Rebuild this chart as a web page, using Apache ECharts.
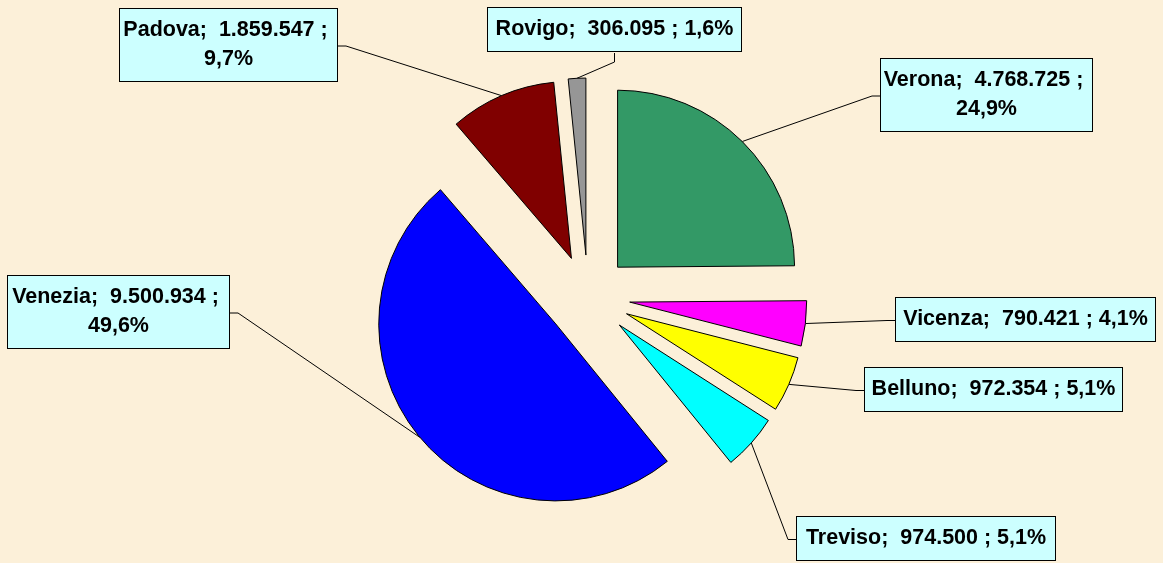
<!DOCTYPE html>
<html>
<head>
<meta charset="utf-8">
<title>Veneto</title>
<script src="https://cdn.jsdelivr.net/npm/echarts@6/dist/echarts.min.js"></script>
<style>
    html, body { margin: 0; padding: 0; background: #fcf0d9; }
    #main { width: 1163px; height: 563px; }
</style>
</head>
<body>
<div id="main"></div>
<script>
// data
var names = ['Verona', 'Vicenza', 'Belluno', 'Treviso', 'Venezia', 'Padova', 'Rovigo'];
var values = [4768725, 790421, 972354, 974500, 9500934, 1859547, 306095];
var colors = ['#339966', '#ff00ff', '#ffff00', '#00ffff', '#0000ff', '#800000', '#969696'];

// label boxes: left, top, width
var boxes = [[881, 59, 211], [896, 298, 259], [865, 368, 257], [797, 517, 258], [8, 276, 221], [120, 9, 217], [488, 8, 253]];

var cx = 588, cy = 297, radius = 177, explode = 42;
var total = values.reduce(function (s, v) { return s + v; }, 0);

function fmtNum(v) { return String(v).replace(/\B(?=(\d{3})+(?!\d))/g, '.'); }
function fmtPct(v) { return (v / total * 100).toFixed(1).replace('.', ',') + '%'; }

var acc = 0;
var series = names.map(function (name, i) {
    var mid = (acc + values[i] / 2) / total * 2 * Math.PI;
    acc += values[i];
    return {
        type: 'pie',
        center: [cx + explode * Math.sin(mid), cy - explode * Math.cos(mid)],
        radius: radius,
        startAngle: 90,
        clockwise: true,
        avoidLabelOverlap: false,
        animation: false,
        silent: true,
        emphasis: { disabled: true },
        itemStyle: { borderColor: '#000', borderWidth: 1 },
        label: {
            formatter: function (p) { return p.name + ';  ' + fmtNum(p.value) + ' ; ' + fmtPct(p.value); },
            fontFamily: 'Liberation Sans',
            fontWeight: 'bold',
            fontSize: 21.5,
            lineHeight: 29,
            color: '#000',
            backgroundColor: '#ccffff',
            borderColor: '#000',
            borderWidth: 1,
            padding: [7, 1],
            width: boxes[i][2] - 2,
            overflow: 'break',
            align: 'center'
        },
        labelLine: { show: true, length: 10, length2: 10, lineStyle: { color: '#000', width: 1 } },
        labelLayout: function (p) {
            if (p.dataIndex !== i || !p.labelLinePoints) return {};
            var b = boxes[i];
            var left = b[0], top = b[1], w = b[2], h = p.labelRect.height;
            var a = p.labelLinePoints[0];
            var end, elbow;
            if (a[0] < left) {
                end = [left, top + h / 2]; elbow = [left - 9, top + h / 2];
            } else if (a[0] > left + w) {
                end = [left + w, top + h / 2]; elbow = [left + w + 9, top + h / 2];
            } else if (a[1] > top + h) {
                end = [left + w / 2, top + h]; elbow = [left + w / 2, top + h + 9];
            } else {
                end = [left + w / 2, top]; elbow = [left + w / 2, top - 9];
            }
            return {
                x: left + w / 2, y: top, align: 'center', verticalAlign: 'top',
                labelLinePoints: [a, elbow, end]
            };
        },
        data: names.map(function (n, j) {
            var item = { name: n, value: values[j] };
            if (j === i) {
                item.itemStyle = { color: colors[j] };
            } else {
                item.itemStyle = { color: 'rgba(0,0,0,0)', borderWidth: 0 };
                item.label = { show: false };
                item.labelLine = { show: false };
            }
            return item;
        })
    };
});

var chart = echarts.init(document.getElementById('main'));
chart.setOption({
    backgroundColor: '#fcf0d9',
    series: series
});
</script>
</body>
</html>
